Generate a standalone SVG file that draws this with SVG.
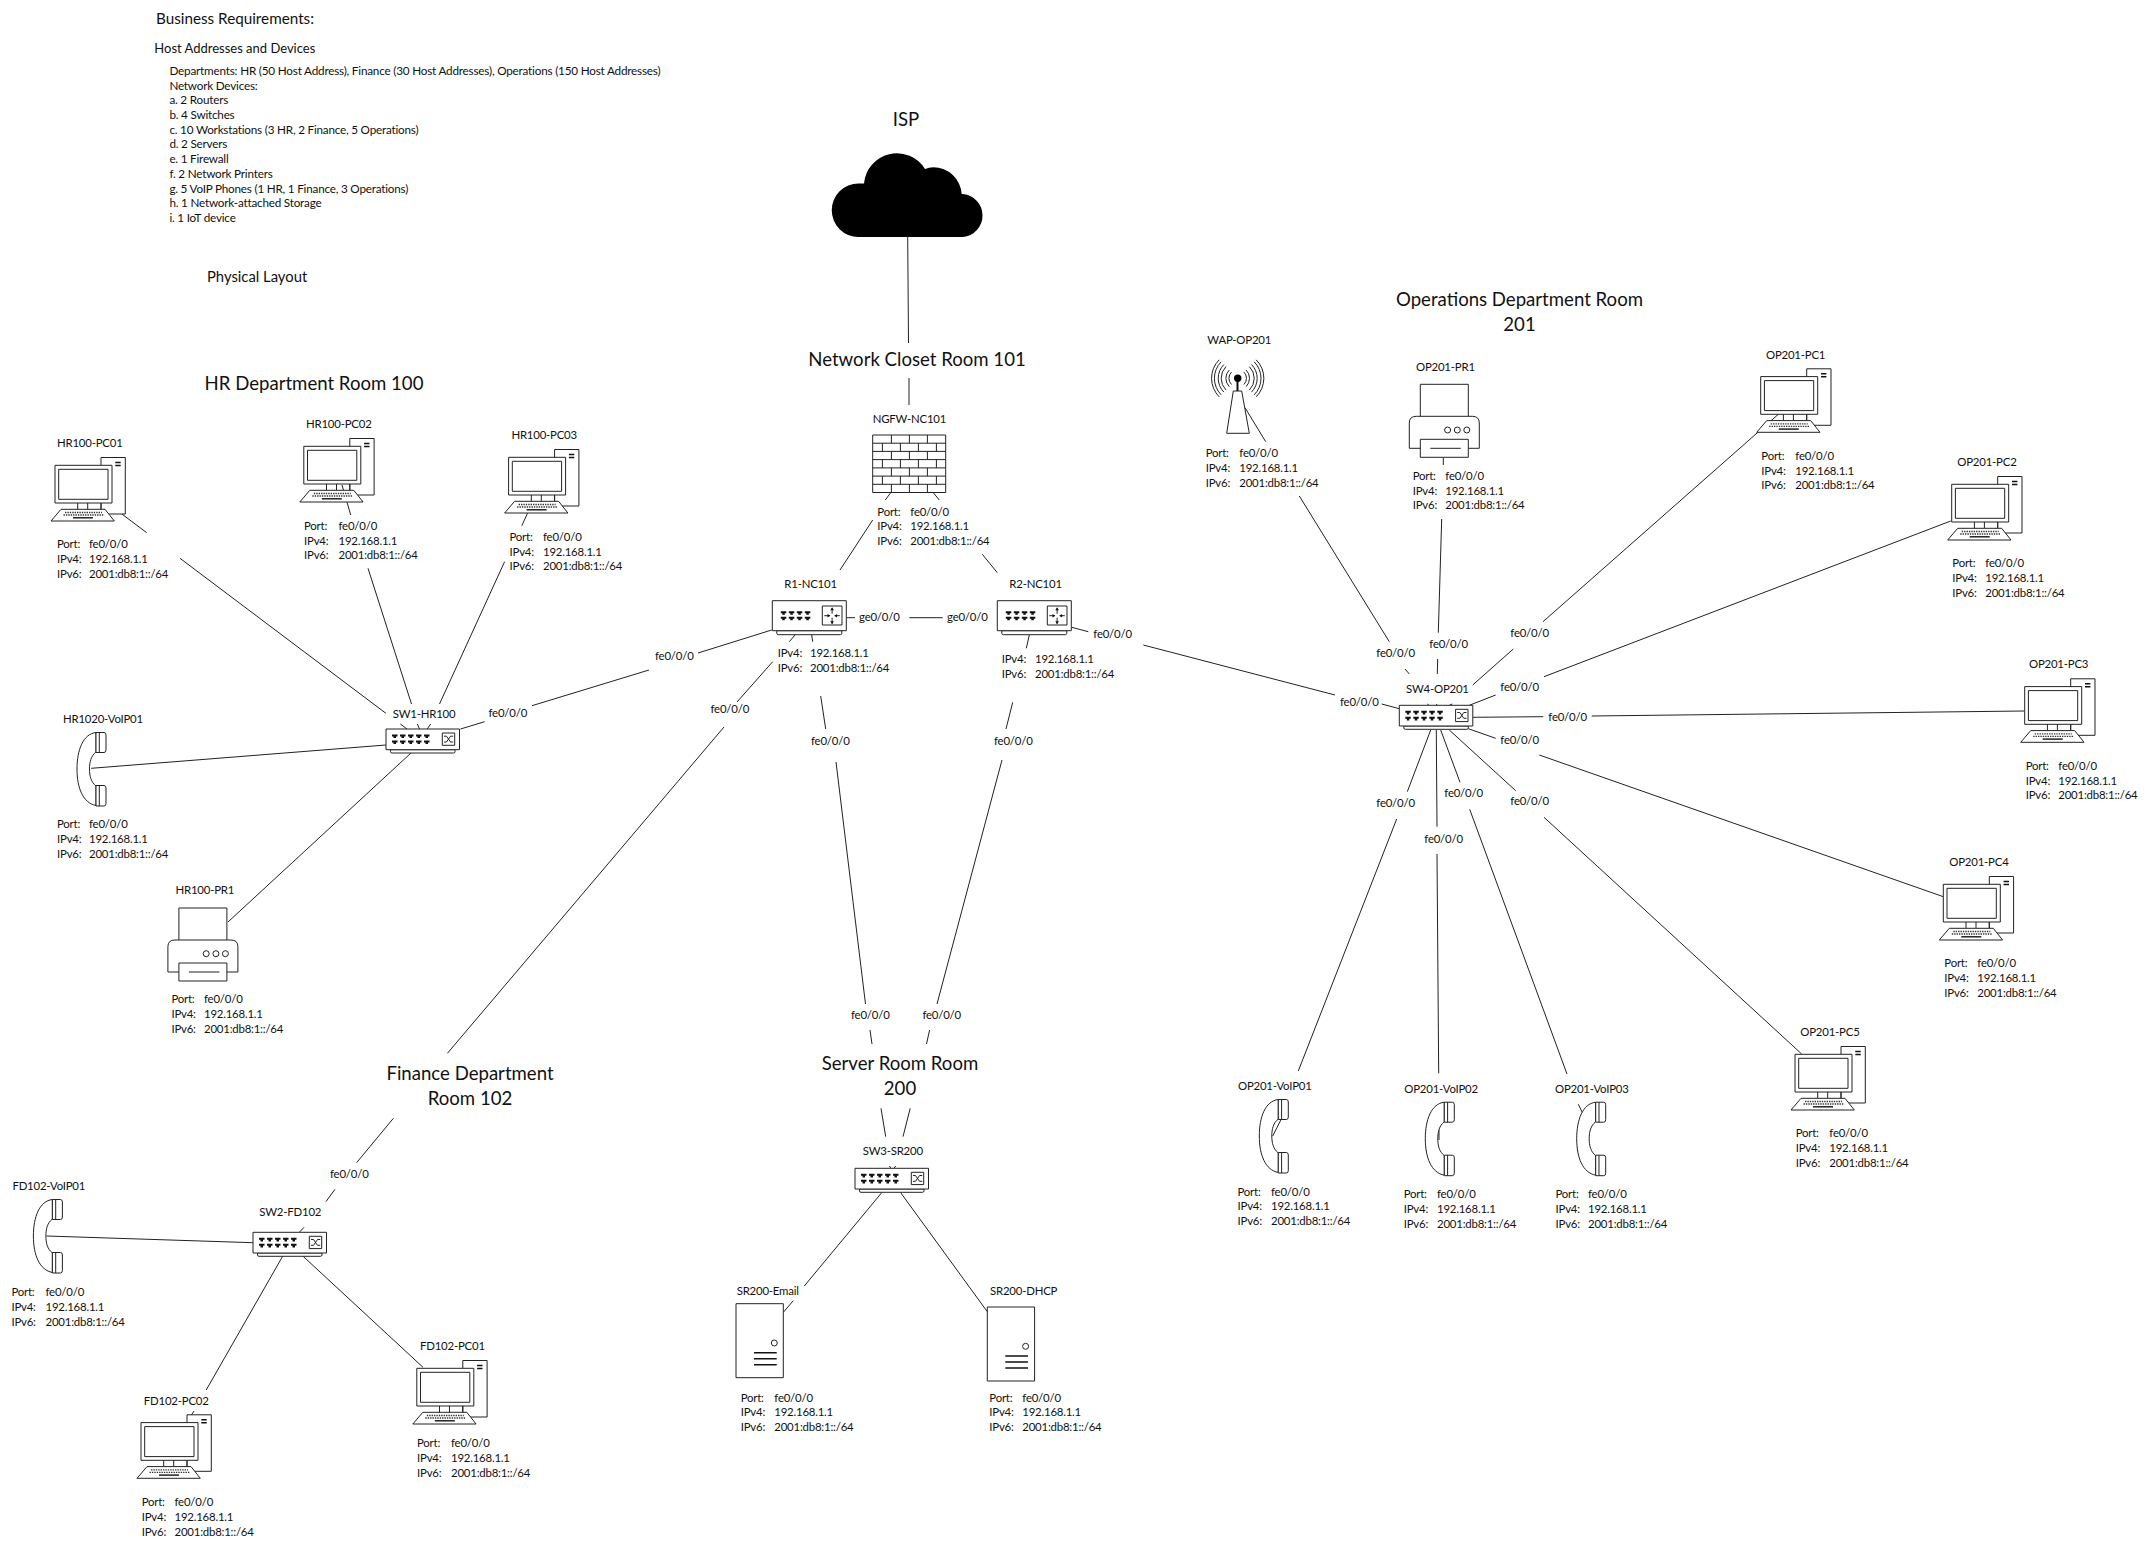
<svg xmlns="http://www.w3.org/2000/svg" xmlns:xlink="http://www.w3.org/1999/xlink" width="2154" height="1550" viewBox="0 0 2154 1550">
<style>
text{font-family:Lato,"Open Sans","Liberation Sans",sans-serif;fill:#111}
.n{font-size:11.4px;letter-spacing:-0.2px}
.l{font-size:11.7px;letter-spacing:-0.2px}
.h{font-size:13px}
.b{font-size:14.8px}
.t{font-size:18.6px;text-anchor:middle}
.i{fill:#fff;stroke:#222;stroke-width:1;stroke-linejoin:round}
.f{fill:none;stroke:#222;stroke-width:1}
#links path{fill:none;stroke:#222;stroke-width:1}
</style>
<defs>
<polygon id="port" points="0,0 5.5,0 5.5,2 4,2 4,3.6 1.5,3.6 1.5,2 0,2" fill="#111"/>
<g id="pc">
<rect class="i" x="50" y="0.5" width="24.3" height="56.5"/>
<path d="M64.3 5.5h5.4M64.3 8.5h5.4" stroke="#111" stroke-width="1.6"/>
<rect class="i" x="4" y="8.3" width="57" height="37.7"/>
<rect class="i" x="7.7" y="12.3" width="49.3" height="30"/>
<path class="f" d="M26.7 46v6.3M36.7 46v6.3M50 46v6.3"/>
<path class="i" d="M10 52.3H54L63.3 64H0Z"/>
<path d="M14 55.5H51M12.5 58H52.5" stroke="#333" stroke-width="1.3" stroke-dasharray="1.4 1" fill="none"/>
<path d="M22 60.8H42" stroke="#111" stroke-width="1.4"/>
</g>
<g id="phone">
<path class="i" d="M19 0.5C6 2 0 18 0 37C0 56 6 71 19 73.5V54C14 50 12.5 44 12.5 37C12.5 30 14 24 19 20Z"/>
<path class="i" d="M19 0.5H27Q29 0.5 29 3V18Q29 20.5 27 20.5H19Z"/>
<path class="i" d="M19 53.5H27Q29 53.5 29 56V71.5Q29 74 27 74H19Z"/>
<path class="f" d="M22.3 0.5V20.5M22.3 53.5V74"/>
</g>
<g id="switch">
<path class="i" d="M4.5 20.7H69V22.6Q69 24 67.5 24H6Q4.5 24 4.5 22.6Z"/>
<rect class="i" x="0" y="0" width="73.5" height="20.7"/>
<use href="#port" x="6" y="5.5"/><use href="#port" x="14" y="5.5"/><use href="#port" x="22" y="5.5"/><use href="#port" x="30" y="5.5"/><use href="#port" x="38" y="5.5"/>
<use href="#port" x="6" y="11.5"/><use href="#port" x="14" y="11.5"/><use href="#port" x="22" y="11.5"/><use href="#port" x="30" y="11.5"/><use href="#port" x="38" y="11.5"/>
<rect class="i" x="56.3" y="4" width="12.4" height="12.3"/>
<path class="f" d="M58 7.2H60.5L64.5 13H67.2M58 13H60.5L64.5 7.2H67.2" stroke-width="0.9"/>
</g>
<g id="router">
<path class="i" d="M4.5 30H69.5V32.6Q69.5 34 68 34H6Q4.5 34 4.5 32.6Z"/>
<rect class="i" x="0" y="0" width="74" height="30"/>
<use href="#port" x="8.5" y="10.5"/><use href="#port" x="16.5" y="10.5"/><use href="#port" x="24.5" y="10.5"/><use href="#port" x="32.5" y="10.5"/>
<use href="#port" x="8.5" y="16"/><use href="#port" x="16.5" y="16"/><use href="#port" x="24.5" y="16"/><use href="#port" x="32.5" y="16"/>
<rect class="i" x="50" y="5.3" width="19.7" height="19"/>
<path class="f" d="M59.8 7.5V13M59.8 17V23M52 15H57.5M62.5 15H67.5"/>
<path d="M59.8 6.5l-1.8 3h3.6ZM59.8 23.5l-1.8-3h3.6ZM58 15l-2.8-1.8v3.6ZM62 15l2.8-1.8v3.6Z" fill="#111"/>
</g>
<g id="printer">
<rect class="i" x="11" y="0.3" width="48" height="33"/>
<path class="i" d="M0 64.3V39Q0 32.3 7 32.3H63Q70 32.3 70 39V64.3H0Z"/>
<rect class="i" x="11" y="55.3" width="48" height="18"/>
<path class="f" d="M21 64.3H51.5" stroke-width="1.3"/>
<circle class="i" cx="38.3" cy="46" r="3"/><circle class="i" cx="48" cy="46" r="3"/><circle class="i" cx="57.5" cy="46" r="3"/>
</g>
<g id="server">
<rect class="i" x="0" y="0" width="47.3" height="74"/>
<circle class="i" cx="38.3" cy="39.3" r="3"/>
<path d="M18 49H40.7M18 55H40.7M18 61H40.7" stroke="#111" stroke-width="1.5"/>
</g>
</defs>

<g id="page-text">
<text class="b" x="156" y="24" textLength="158" lengthAdjust="spacingAndGlyphs">Business Requirements:</text>
<text class="h" x="154.3" y="52.7" textLength="161" lengthAdjust="spacingAndGlyphs">Host Addresses and Devices</text>
<text class="l" x="169.4" y="75" textLength="491" lengthAdjust="spacingAndGlyphs">Departments: HR (50 Host Address), Finance (30 Host Addresses), Operations (150 Host Addresses)</text>
<text class="l" x="169.4" y="90">Network Devices:</text>
<text class="l" x="169.4" y="104">a. 2 Routers</text>
<text class="l" x="169.4" y="119">b. 4 Switches</text>
<text class="l" x="169.4" y="134">c. 10 Workstations (3 HR, 2 Finance, 5 Operations)</text>
<text class="l" x="169.4" y="148">d. 2 Servers</text>
<text class="l" x="169.4" y="163">e. 1 Firewall</text>
<text class="l" x="169.4" y="178">f. 2 Network Printers</text>
<text class="l" x="169.4" y="193">g. 5 VoIP Phones (1 HR, 1 Finance, 3 Operations)</text>
<text class="l" x="169.4" y="207">h. 1 Network-attached Storage</text>
<text class="l" x="169.4" y="222">i. 1 IoT device</text>
<text class="b" x="207" y="281.7">Physical Layout</text>
<text class="t" x="906" y="125.7">ISP</text>
<text class="t" x="917" y="366">Network Closet Room 101</text>
<text class="t" x="314" y="390">HR Department Room 100</text>
<text class="t" x="1519.5" y="306">Operations Department Room</text>
<text class="t" x="1519.5" y="331">201</text>
<text class="t" x="470" y="1080">Finance Department</text>
<text class="t" x="470" y="1105">Room 102</text>
<text class="t" x="900" y="1070">Server Room Room</text>
<text class="t" x="900" y="1095">200</text>
</g>

<g id="links">
<path d="M907.7 237L908.5 343M909 378L909 405"/>
<path d="M121.8 514L146.7 532.7M180 558.3L385.9 713.3M400.4 724L407 729"/>
<path d="M342 485L350.7 515M368 568.3L411.5 704M417.3 724L419.6 729"/>
<path d="M527.5 513.3L521.8 525.7M504.6 561.7L439.5 704M430.7 724L427.2 729"/>
<path d="M91.2 768.3L385.9 745"/>
<path d="M411 753L228 922"/>
<path d="M460.5 729L484.6 721.7M532 705.7L649 670M698 653L771.7 630"/>
<path d="M789.3 641.7L795 635M772.7 661.7L737 702M724 727L447.4 1053.3M393.4 1118.3L356.6 1162.7M335 1189.3L325.9 1201.7M304 1227.3L299.3 1232.3"/>
<path d="M46.6 1236L252.8 1242.7"/>
<path d="M282.8 1256L206.2 1390M194 1411L191.4 1415"/>
<path d="M302.8 1256L423 1367.3"/>
<path d="M846.7 617.7H855M909.3 617.7H942.7"/>
<path d="M890.7 492.7L885.3 500M872.7 520L840 570"/>
<path d="M933.3 492.7L939.3 500M982.3 554.3L997.3 572.7"/>
<path d="M1071.7 627.3L1088.3 631.7M1143.3 645L1335 695M1381.7 704L1399.3 708.7"/>
<path d="M811.7 635L812.7 641.7M820.7 696L825.7 729M836 762L865.5 1004M870 1030L872 1044M881 1108.3L885.7 1136.7M889.3 1166L891 1168.3"/>
<path d="M1029.3 635L1026.3 648.3M1012.7 702.3L1006 729M1002 760L937 1004M929.6 1030L926.5 1044M910.2 1108.3L903 1136.7M895.7 1166L894 1168.3"/>
<path d="M881.7 1192.7L804.3 1286M793.3 1300.7L783.3 1312.3"/>
<path d="M900.7 1192.7L987.3 1311.7"/>
<path d="M1245 407.7L1265.7 441.7M1299.3 496L1389.3 641.7M1405 669L1409.3 674M1427.3 704L1429 705.3"/>
<path d="M1443.3 457.7V465M1441.7 519L1438.3 632.7M1437.7 659L1437.3 674M1436.7 704V705.3"/>
<path d="M1778.3 414.3L1543 621.7M1513.3 649L1472.7 685M1452.3 704L1449.3 705.3"/>
<path d="M1950.7 521L1544 676.7M1495.7 695L1469.3 705.3"/>
<path d="M2024.3 711L1591.7 716M1543.3 716.7L1472.7 717.3"/>
<path d="M1943.3 896.7L1539.3 755M1495.7 738.3L1468.3 728.7"/>
<path d="M1801.7 1054L1544 817.3M1515.7 790.7L1449.3 730"/>
<path d="M1430.7 730L1407.3 791.7M1396.7 819L1298.3 1071M1272.7 1136L1281.7 1118.3"/>
<path d="M1436.3 730L1437 826.7M1437 854L1438.7 1073.3M1439 1130V1140"/>
<path d="M1440.7 730L1460 782.3M1469.7 809.3L1567 1074M1578.3 1104.3L1582.7 1113.3"/>
</g>

<g id="link-labels">
<text class="n" x="488.5" y="716.7">fe0/0/0</text>
<text class="n" x="655" y="659.5">fe0/0/0</text>
<text class="n" x="710.5" y="712.5">fe0/0/0</text>
<text class="n" x="330" y="1178.3">fe0/0/0</text>
<text class="n" x="859" y="621">ge0/0/0</text>
<text class="n" x="947" y="621">ge0/0/0</text>
<text class="n" x="1093.3" y="637.7">fe0/0/0</text>
<text class="n" x="1340" y="706">fe0/0/0</text>
<text class="n" x="811" y="745">fe0/0/0</text>
<text class="n" x="994" y="745">fe0/0/0</text>
<text class="n" x="851" y="1019.3">fe0/0/0</text>
<text class="n" x="922.4" y="1019.3">fe0/0/0</text>
<text class="n" x="1376.3" y="656.7">fe0/0/0</text>
<text class="n" x="1429.3" y="647.7">fe0/0/0</text>
<text class="n" x="1510.3" y="637.3">fe0/0/0</text>
<text class="n" x="1500.3" y="690.7">fe0/0/0</text>
<text class="n" x="1548.3" y="720.7">fe0/0/0</text>
<text class="n" x="1500.3" y="744">fe0/0/0</text>
<text class="n" x="1510.3" y="805.3">fe0/0/0</text>
<text class="n" x="1376.3" y="806.7">fe0/0/0</text>
<text class="n" x="1424.3" y="842.7">fe0/0/0</text>
<text class="n" x="1444.3" y="797.3">fe0/0/0</text>
</g>

<g id="isp"><path fill="#000" d="M858.5 237A26.7 26.7 0 0 1 858.5 183.5Q861.5 183.5 864 183.5A33 33 0 0 1 925 169Q929 167.3 933.3 167.3A28.5 28.5 0 0 1 961.7 194Q962.5 194 963 194A21.6 21.6 0 0 1 963 237Z"/></g>

<g id="NGFW-NC101">
<g transform="translate(872.7 435)">
<rect class="i" width="73" height="57.5"/>
<path class="f" stroke-width="1" d="M0 8.2H73M0 16.4H73M0 24.6H73M0 32.9H73M0 41.1H73M0 49.3H73M18.7 0V8.2M36.7 0V8.2M54.7 0V8.2M9.7 8.2V16.4M27.7 8.2V16.4M45.7 8.2V16.4M63.7 8.2V16.4M18.7 16.4V24.6M36.7 16.4V24.6M54.7 16.4V24.6M9.7 24.6V32.9M27.7 24.6V32.9M45.7 24.6V32.9M63.7 24.6V32.9M18.7 32.9V41.1M36.7 32.9V41.1M54.7 32.9V41.1M9.7 41.1V49.3M27.7 41.1V49.3M45.7 41.1V49.3M63.7 41.1V49.3M18.7 49.3V57.5M36.7 49.3V57.5M54.7 49.3V57.5"/>
</g>
<text class="n" x="872.7" y="423.3">NGFW-NC101</text>
<text class="n" x="877.3" y="515.7">Port:</text><text class="n" x="910.3" y="515.7">fe0/0/0</text>
<text class="n" x="877.3" y="530">IPv4:</text><text class="n" x="910.3" y="530">192.168.1.1</text>
<text class="n" x="877.3" y="545">IPv6:</text><text class="n" x="910.3" y="545">2001:db8:1::/64</text>
</g>

<g id="R1-NC101">
<use href="#router" x="772.3" y="600.7"/>
<text class="n" x="784.3" y="588.3">R1-NC101</text>
<text class="n" x="777.7" y="656.7">IPv4:</text><text class="n" x="810" y="656.7">192.168.1.1</text>
<text class="n" x="777.7" y="671.7">IPv6:</text><text class="n" x="810" y="671.7">2001:db8:1::/64</text>
</g>
<g id="R2-NC101">
<use href="#router" x="997.3" y="600.7"/>
<text class="n" x="1009.3" y="588.3">R2-NC101</text>
<text class="n" x="1001.7" y="662.7">IPv4:</text><text class="n" x="1035" y="662.7">192.168.1.1</text>
<text class="n" x="1001.7" y="677.7">IPv6:</text><text class="n" x="1035" y="677.7">2001:db8:1::/64</text>
</g>

<g id="SW1-HR100"><use href="#switch" x="386" y="729"/><text class="n" x="392.8" y="717.7">SW1-HR100</text></g>
<g id="SW2-FD102"><use href="#switch" x="253" y="1232.3"/><text class="n" x="259.3" y="1215.7">SW2-FD102</text></g>
<g id="SW3-SR200"><use href="#switch" x="855" y="1168.3"/><text class="n" x="862.7" y="1155">SW3-SR200</text></g>
<g id="SW4-OP201"><use href="#switch" x="1399.3" y="705.3"/><text class="n" x="1406" y="692.7">SW4-OP201</text></g>

<g id="HR100-PC01"><use href="#pc" x="51" y="457"/><text class="n" x="57" y="447">HR100-PC01</text>
<text class="n" x="57" y="548">Port:</text><text class="n" x="89" y="548">fe0/0/0</text>
<text class="n" x="57" y="563">IPv4:</text><text class="n" x="89" y="563">192.168.1.1</text>
<text class="n" x="57" y="578">IPv6:</text><text class="n" x="89" y="578">2001:db8:1::/64</text></g>
<g id="HR100-PC02"><use href="#pc" x="299.8" y="438"/><text class="n" x="306" y="428">HR100-PC02</text>
<text class="n" x="304" y="530">Port:</text><text class="n" x="338.5" y="530">fe0/0/0</text>
<text class="n" x="304" y="545">IPv4:</text><text class="n" x="338.5" y="545">192.168.1.1</text>
<text class="n" x="304" y="559">IPv6:</text><text class="n" x="338.5" y="559">2001:db8:1::/64</text></g>
<g id="HR100-PC03"><use href="#pc" x="504.6" y="449"/><text class="n" x="511.4" y="439">HR100-PC03</text>
<text class="n" x="509.5" y="541">Port:</text><text class="n" x="543" y="541">fe0/0/0</text>
<text class="n" x="509.5" y="556">IPv4:</text><text class="n" x="543" y="556">192.168.1.1</text>
<text class="n" x="509.5" y="570">IPv6:</text><text class="n" x="543" y="570">2001:db8:1::/64</text></g>
<g id="HR1020-VoIP01"><use href="#phone" x="77" y="732"/><text class="n" x="63" y="722.7">HR1020-VoIP01</text>
<text class="n" x="57" y="827.7">Port:</text><text class="n" x="89" y="827.7">fe0/0/0</text>
<text class="n" x="57" y="842.7">IPv4:</text><text class="n" x="89" y="842.7">192.168.1.1</text>
<text class="n" x="57" y="857.7">IPv6:</text><text class="n" x="89" y="857.7">2001:db8:1::/64</text></g>
<g id="HR100-PR1"><use href="#printer" x="167.9" y="907.7"/><text class="n" x="175.5" y="894">HR100-PR1</text>
<text class="n" x="171.4" y="1003.3">Port:</text><text class="n" x="204" y="1003.3">fe0/0/0</text>
<text class="n" x="171.4" y="1018">IPv4:</text><text class="n" x="204" y="1018">192.168.1.1</text>
<text class="n" x="171.4" y="1033">IPv6:</text><text class="n" x="204" y="1033">2001:db8:1::/64</text></g>

<g id="FD102-VoIP01"><use href="#phone" x="33.4" y="1199"/><text class="n" x="12.4" y="1190">FD102-VoIP01</text>
<text class="n" x="11.4" y="1296">Port:</text><text class="n" x="45.5" y="1296">fe0/0/0</text>
<text class="n" x="11.4" y="1311">IPv4:</text><text class="n" x="45.5" y="1311">192.168.1.1</text>
<text class="n" x="11.4" y="1326">IPv6:</text><text class="n" x="45.5" y="1326">2001:db8:1::/64</text></g>
<g id="FD102-PC01"><use href="#pc" x="412.8" y="1360"/><text class="n" x="420" y="1350">FD102-PC01</text>
<text class="n" x="417" y="1446.7">Port:</text><text class="n" x="451" y="1446.7">fe0/0/0</text>
<text class="n" x="417" y="1461.7">IPv4:</text><text class="n" x="451" y="1461.7">192.168.1.1</text>
<text class="n" x="417" y="1476.7">IPv6:</text><text class="n" x="451" y="1476.7">2001:db8:1::/64</text></g>
<g id="FD102-PC02"><use href="#pc" x="137" y="1414.3"/><text class="n" x="143.8" y="1405">FD102-PC02</text>
<text class="n" x="141.7" y="1506">Port:</text><text class="n" x="174.5" y="1506">fe0/0/0</text>
<text class="n" x="141.7" y="1521">IPv4:</text><text class="n" x="174.5" y="1521">192.168.1.1</text>
<text class="n" x="141.7" y="1536">IPv6:</text><text class="n" x="174.5" y="1536">2001:db8:1::/64</text></g>

<g id="SR200-Email"><use href="#server" x="736" y="1303.7"/><text class="n" x="736.7" y="1295">SR200-Email</text>
<text class="n" x="740.7" y="1401.7">Port:</text><text class="n" x="774.3" y="1401.7">fe0/0/0</text>
<text class="n" x="740.7" y="1416">IPv4:</text><text class="n" x="774.3" y="1416">192.168.1.1</text>
<text class="n" x="740.7" y="1431">IPv6:</text><text class="n" x="774.3" y="1431">2001:db8:1::/64</text></g>
<g id="SR200-DHCP"><use href="#server" x="987.3" y="1307"/><text class="n" x="990" y="1295">SR200-DHCP</text>
<text class="n" x="989.3" y="1401.7">Port:</text><text class="n" x="1022.3" y="1401.7">fe0/0/0</text>
<text class="n" x="989.3" y="1416">IPv4:</text><text class="n" x="1022.3" y="1416">192.168.1.1</text>
<text class="n" x="989.3" y="1431">IPv6:</text><text class="n" x="1022.3" y="1431">2001:db8:1::/64</text></g>

<g id="WAP-OP201">
<path class="i" d="M1233.3 391H1241.7L1249.3 433.3H1226.7Z"/>
<path d="M1237.5 380V391" stroke="#111" stroke-width="2"/>
<circle cx="1237.7" cy="378.3" r="3.7" fill="#000"/>
<path class="f" d="M1231.5 372.1A8.8 8.8 0 0 0 1231.5 384.5M1229.3 370A11.8 11.8 0 0 0 1229.3 386.6M1243.9 372.1A8.8 8.8 0 0 1 1243.9 384.5M1246.1 370A11.8 11.8 0 0 1 1246.1 386.6M1226 366.6A16.6 16.6 0 0 0 1226 390M1223.9 364.5A19.6 19.6 0 0 0 1223.9 392.1M1249.4 366.6A16.6 16.6 0 0 1 1249.4 390M1251.5 364.5A19.6 19.6 0 0 1 1251.5 392.1M1221.2 361.8A23.4 23.4 0 0 0 1221.2 394.8M1219.2 359.8A26.2 26.2 0 0 0 1219.2 396.8M1254.2 361.8A23.4 23.4 0 0 1 1254.2 394.8M1256.2 359.8A26.2 26.2 0 0 1 1256.2 396.8"/>
<text class="n" x="1207.3" y="344">WAP-OP201</text>
<text class="n" x="1205.7" y="456.7">Port:</text><text class="n" x="1239.3" y="456.7">fe0/0/0</text>
<text class="n" x="1205.7" y="471.7">IPv4:</text><text class="n" x="1239.3" y="471.7">192.168.1.1</text>
<text class="n" x="1205.7" y="486.7">IPv6:</text><text class="n" x="1239.3" y="486.7">2001:db8:1::/64</text></g>
<g id="OP201-PR1"><use href="#printer" x="1409.3" y="384"/><text class="n" x="1416" y="371">OP201-PR1</text>
<text class="n" x="1412.7" y="480">Port:</text><text class="n" x="1445.3" y="480">fe0/0/0</text>
<text class="n" x="1412.7" y="495">IPv4:</text><text class="n" x="1445.3" y="495">192.168.1.1</text>
<text class="n" x="1412.7" y="509">IPv6:</text><text class="n" x="1445.3" y="509">2001:db8:1::/64</text></g>
<g id="OP201-PC1"><use href="#pc" x="1756.7" y="368.3"/><text class="n" x="1766" y="359">OP201-PC1</text>
<text class="n" x="1761.3" y="460">Port:</text><text class="n" x="1795.3" y="460">fe0/0/0</text>
<text class="n" x="1761.3" y="475">IPv4:</text><text class="n" x="1795.3" y="475">192.168.1.1</text>
<text class="n" x="1761.3" y="489">IPv6:</text><text class="n" x="1795.3" y="489">2001:db8:1::/64</text></g>
<g id="OP201-PC2"><use href="#pc" x="1947.7" y="476"/><text class="n" x="1957.3" y="465.7">OP201-PC2</text>
<text class="n" x="1952.3" y="566.7">Port:</text><text class="n" x="1985.3" y="566.7">fe0/0/0</text>
<text class="n" x="1952.3" y="581.7">IPv4:</text><text class="n" x="1985.3" y="581.7">192.168.1.1</text>
<text class="n" x="1952.3" y="596.7">IPv6:</text><text class="n" x="1985.3" y="596.7">2001:db8:1::/64</text></g>
<g id="OP201-PC3"><use href="#pc" x="2020.7" y="678.3"/><text class="n" x="2029" y="668.3">OP201-PC3</text>
<text class="n" x="2025.7" y="770">Port:</text><text class="n" x="2058.3" y="770">fe0/0/0</text>
<text class="n" x="2025.7" y="785">IPv4:</text><text class="n" x="2058.3" y="785">192.168.1.1</text>
<text class="n" x="2025.7" y="799">IPv6:</text><text class="n" x="2058.3" y="799">2001:db8:1::/64</text></g>
<g id="OP201-PC4"><use href="#pc" x="1939.3" y="876"/><text class="n" x="1949.3" y="866">OP201-PC4</text>
<text class="n" x="1944.3" y="966.7">Port:</text><text class="n" x="1977.3" y="966.7">fe0/0/0</text>
<text class="n" x="1944.3" y="981.7">IPv4:</text><text class="n" x="1977.3" y="981.7">192.168.1.1</text>
<text class="n" x="1944.3" y="996.7">IPv6:</text><text class="n" x="1977.3" y="996.7">2001:db8:1::/64</text></g>
<g id="OP201-PC5"><use href="#pc" x="1791" y="1046"/><text class="n" x="1800.3" y="1036">OP201-PC5</text>
<text class="n" x="1795.7" y="1137.3">Port:</text><text class="n" x="1829.3" y="1137.3">fe0/0/0</text>
<text class="n" x="1795.7" y="1152">IPv4:</text><text class="n" x="1829.3" y="1152">192.168.1.1</text>
<text class="n" x="1795.7" y="1167">IPv6:</text><text class="n" x="1829.3" y="1167">2001:db8:1::/64</text></g>
<g id="OP201-VoIP01"><use href="#phone" x="1259.3" y="1099"/><text class="n" x="1238" y="1090">OP201-VoIP01</text>
<text class="n" x="1237.5" y="1196">Port:</text><text class="n" x="1271" y="1196">fe0/0/0</text>
<text class="n" x="1237.5" y="1210">IPv4:</text><text class="n" x="1271" y="1210">192.168.1.1</text>
<text class="n" x="1237.5" y="1225">IPv6:</text><text class="n" x="1271" y="1225">2001:db8:1::/64</text></g>
<g id="OP201-VoIP02"><use href="#phone" x="1425.3" y="1101.7"/><text class="n" x="1404.3" y="1092.7">OP201-VoIP02</text>
<text class="n" x="1403.7" y="1197.7">Port:</text><text class="n" x="1437" y="1197.7">fe0/0/0</text>
<text class="n" x="1403.7" y="1212.7">IPv4:</text><text class="n" x="1437" y="1212.7">192.168.1.1</text>
<text class="n" x="1403.7" y="1227.7">IPv6:</text><text class="n" x="1437" y="1227.7">2001:db8:1::/64</text></g>
<g id="OP201-VoIP03"><use href="#phone" x="1576.7" y="1101.7"/><text class="n" x="1555" y="1092.7">OP201-VoIP03</text>
<text class="n" x="1555.5" y="1197.7">Port:</text><text class="n" x="1588" y="1197.7">fe0/0/0</text>
<text class="n" x="1555.5" y="1212.7">IPv4:</text><text class="n" x="1588" y="1212.7">192.168.1.1</text>
<text class="n" x="1555.5" y="1227.7">IPv6:</text><text class="n" x="1588" y="1227.7">2001:db8:1::/64</text></g>
</svg>
